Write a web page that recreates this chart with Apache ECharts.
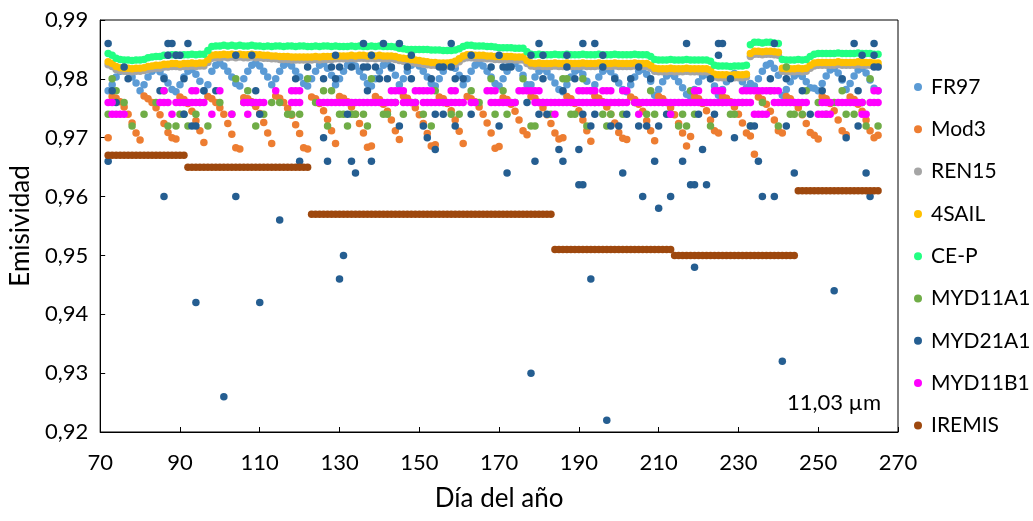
<!DOCTYPE html>
<html>
<head>
<meta charset="utf-8">
<script src="https://cdn.jsdelivr.net/npm/echarts/dist/echarts.min.js"></script>
<style>
  html, body { margin: 0; padding: 0; background: #fff; }
  #chart { width: 1033px; height: 521px; }
</style>
</head>
<body>
<div id="chart"></div>
<script>
// Daily series start on day 72 and run to day 265 (one value per day).
const firstDay = 72;

const xTicks = [70, 90, 110, 130, 150, 170, 190, 210, 230, 250, 270];
const yTicks = [0.92, 0.93, 0.94, 0.95, 0.96, 0.97, 0.98, 0.99];

const seriesNames = ['FR97', 'Mod3', 'REN15', '4SAIL', 'CE-P', 'MYD11A1', 'MYD21A1', 'MYD11B1', 'IREMIS'];
const seriesColors = ['#5B9BD5', '#ED7D31', '#A5A5A5', '#FFC000', '#22FF82', '#70AD47', '#255E91', '#FF00FF', '#9E480E'];

// FR97, daily
const fr97 = [
  0.9780,0.9790,0.9803,0.9813,0.9817,0.9812,0.9803,0.9793,0.9780,0.9790,
  0.9803,0.9813,0.9817,0.9812,0.9803,0.9793,0.9782,0.9778,0.9790,0.9803,
  0.9813,0.9816,0.9808,0.9796,0.9780,0.9790,0.9813,0.9823,0.9827,0.9822,
  0.9813,0.9803,0.9792,0.9788,0.9800,0.9813,0.9823,0.9827,0.9822,0.9813,
  0.9803,0.9790,0.9800,0.9813,0.9823,0.9827,0.9822,0.9813,0.9803,0.9792,
  0.9788,0.9800,0.9813,0.9823,0.9826,0.9818,0.9806,0.9790,0.9800,0.9813,
  0.9823,0.9827,0.9822,0.9813,0.9803,0.9792,0.9788,0.9800,0.9813,0.9823,
  0.9826,0.9818,0.9806,0.9790,0.9800,0.9813,0.9823,0.9827,0.9822,0.9813,
  0.9803,0.9792,0.9788,0.9800,0.9813,0.9823,0.9826,0.9818,0.9806,0.9790,
  0.9800,0.9813,0.9823,0.9827,0.9822,0.9813,0.9803,0.9792,0.9788,0.9800,
  0.9813,0.9823,0.9826,0.9818,0.9806,0.9790,0.9790,0.9803,0.9813,0.9817,
  0.9812,0.9803,0.9793,0.9782,0.9778,0.9790,0.9803,0.9813,0.9816,0.9808,
  0.9796,0.9780,0.9790,0.9803,0.9813,0.9817,0.9812,0.9803,0.9793,0.9782,
  0.9778,0.9790,0.9803,0.9813,0.9816,0.9808,0.9796,0.9772,0.9782,0.9795,
  0.9805,0.9809,0.9804,0.9795,0.9785,0.9774,0.9770,0.9782,0.9795,0.9805,
  0.9808,0.9800,0.9788,0.9772,0.9782,0.9795,0.9805,0.9809,0.9804,0.9795,
  0.9785,0.9792,0.9788,0.9800,0.9813,0.9823,0.9826,0.9818,0.9806,0.9772,
  0.9782,0.9795,0.9805,0.9809,0.9804,0.9795,0.9785,0.9784,0.9780,0.9792,
  0.9805,0.9815,0.9818,0.9810,0.9798,0.9782,0.9792,0.9805,0.9815,0.9818,
  0.9810,0.9798,0.9784,0.9780
];

// Mod3, daily
const mod3 = [
  0.9700,0.9770,0.9767,0.9761,0.9752,0.9740,0.9725,0.9708,0.9696,0.9771,
  0.9766,0.9760,0.9751,0.9739,0.9724,0.9709,0.9700,0.9698,0.9769,0.9765,
  0.9758,0.9745,0.9729,0.9712,0.9692,0.9770,0.9766,0.9760,0.9751,0.9740,
  0.9724,0.9706,0.9683,0.9681,0.9768,0.9766,0.9761,0.9753,0.9741,0.9726,
  0.9708,0.9690,0.9771,0.9767,0.9760,0.9750,0.9738,0.9722,0.9707,0.9683,
  0.9681,0.9769,0.9766,0.9758,0.9746,0.9731,0.9712,0.9690,0.9770,0.9767,
  0.9761,0.9752,0.9740,0.9724,0.9708,0.9684,0.9686,0.9770,0.9765,0.9757,
  0.9745,0.9730,0.9712,0.9697,0.9771,0.9767,0.9760,0.9751,0.9739,0.9724,
  0.9707,0.9686,0.9688,0.9769,0.9766,0.9758,0.9746,0.9730,0.9711,0.9690,
  0.9770,0.9766,0.9761,0.9752,0.9740,0.9725,0.9708,0.9682,0.9685,0.9768,
  0.9765,0.9757,0.9745,0.9730,0.9712,0.9705,0.9770,0.9767,0.9760,0.9751,
  0.9739,0.9724,0.9708,0.9698,0.9700,0.9770,0.9766,0.9758,0.9746,0.9730,
  0.9712,0.9694,0.9771,0.9767,0.9761,0.9752,0.9740,0.9725,0.9709,0.9699,
  0.9697,0.9769,0.9765,0.9757,0.9745,0.9729,0.9712,0.9695,0.9770,0.9766,
  0.9760,0.9751,0.9739,0.9724,0.9708,0.9686,0.9702,0.9770,0.9766,0.9758,
  0.9746,0.9730,0.9712,0.9708,0.9770,0.9767,0.9761,0.9752,0.9740,0.9725,
  0.9708,0.9703,0.9672,0.9769,0.9765,0.9757,0.9745,0.9730,0.9712,0.9708,
  0.9770,0.9766,0.9760,0.9751,0.9739,0.9724,0.9709,0.9704,0.9698,0.9770,
  0.9766,0.9758,0.9746,0.9730,0.9712,0.9705,0.9769,0.9765,0.9757,0.9745,
  0.9730,0.9712,0.9700,0.9704
];

// REN15, daily
const ren15 = [
  0.9824,0.9821,0.9816,0.9814,0.9813,0.9813,0.9812,0.9813,0.9813,0.9814,
  0.9816,0.9817,0.9818,0.9818,0.9820,0.9820,0.9821,0.9821,0.9820,0.9821,
  0.9821,0.9822,0.9821,0.9822,0.9822,0.9828,0.9835,0.9836,0.9836,0.9837,
  0.9836,0.9837,0.9836,0.9837,0.9836,0.9836,0.9837,0.9836,0.9836,0.9835,
  0.9835,0.9834,0.9834,0.9833,0.9833,0.9833,0.9832,0.9832,0.9832,0.9832,
  0.9832,0.9832,0.9833,0.9832,0.9833,0.9833,0.9833,0.9834,0.9834,0.9834,
  0.9834,0.9835,0.9834,0.9835,0.9835,0.9834,0.9835,0.9834,0.9835,0.9834,
  0.9834,0.9834,0.9833,0.9831,0.9830,0.9829,0.9828,0.9827,0.9826,0.9825,
  0.9824,0.9823,0.9823,0.9822,0.9822,0.9822,0.9823,0.9825,0.9829,0.9834,
  0.9836,0.9836,0.9835,0.9835,0.9835,0.9834,0.9834,0.9833,0.9833,0.9833,
  0.9833,0.9833,0.9832,0.9832,0.9832,0.9826,0.9822,0.9821,0.9822,0.9821,
  0.9821,0.9821,0.9822,0.9821,0.9821,0.9822,0.9821,0.9821,0.9821,0.9822,
  0.9821,0.9821,0.9821,0.9822,0.9821,0.9821,0.9821,0.9822,0.9821,0.9821,
  0.9821,0.9821,0.9822,0.9821,0.9821,0.9821,0.9818,0.9813,0.9812,0.9812,
  0.9812,0.9813,0.9812,0.9812,0.9812,0.9813,0.9812,0.9812,0.9812,0.9812,
  0.9812,0.9810,0.9803,0.9802,0.9802,0.9802,0.9801,0.9802,0.9802,0.9802,
  0.9803,0.9838,0.9842,0.9842,0.9841,0.9842,0.9842,0.9841,0.9840,0.9813,
  0.9812,0.9812,0.9812,0.9813,0.9812,0.9813,0.9818,0.9822,0.9823,0.9823,
  0.9823,0.9823,0.9823,0.9824,0.9823,0.9823,0.9823,0.9823,0.9824,0.9823,
  0.9823,0.9823,0.9822,0.9822
];

// 4SAIL, daily
const sail4 = [
  0.9829,0.9826,0.9821,0.9819,0.9818,0.9818,0.9817,0.9818,0.9818,0.9819,
  0.9821,0.9822,0.9823,0.9823,0.9825,0.9825,0.9826,0.9826,0.9825,0.9826,
  0.9826,0.9827,0.9826,0.9827,0.9827,0.9833,0.9840,0.9841,0.9841,0.9842,
  0.9841,0.9842,0.9841,0.9842,0.9841,0.9841,0.9842,0.9841,0.9841,0.9840,
  0.9840,0.9839,0.9839,0.9838,0.9838,0.9838,0.9837,0.9837,0.9837,0.9837,
  0.9837,0.9837,0.9838,0.9837,0.9838,0.9838,0.9838,0.9839,0.9839,0.9839,
  0.9839,0.9840,0.9839,0.9840,0.9840,0.9839,0.9840,0.9839,0.9840,0.9839,
  0.9839,0.9839,0.9838,0.9836,0.9835,0.9834,0.9833,0.9832,0.9831,0.9830,
  0.9829,0.9828,0.9828,0.9827,0.9827,0.9827,0.9828,0.9830,0.9834,0.9839,
  0.9841,0.9841,0.9840,0.9840,0.9840,0.9839,0.9839,0.9838,0.9838,0.9838,
  0.9838,0.9838,0.9837,0.9837,0.9837,0.9831,0.9827,0.9826,0.9827,0.9826,
  0.9826,0.9826,0.9827,0.9826,0.9826,0.9827,0.9826,0.9826,0.9826,0.9827,
  0.9826,0.9826,0.9826,0.9827,0.9826,0.9826,0.9826,0.9827,0.9826,0.9826,
  0.9826,0.9826,0.9827,0.9826,0.9826,0.9826,0.9823,0.9818,0.9817,0.9817,
  0.9817,0.9818,0.9817,0.9817,0.9817,0.9818,0.9817,0.9817,0.9817,0.9817,
  0.9817,0.9815,0.9808,0.9807,0.9807,0.9807,0.9806,0.9807,0.9807,0.9807,
  0.9808,0.9843,0.9847,0.9847,0.9846,0.9847,0.9847,0.9846,0.9845,0.9818,
  0.9817,0.9817,0.9817,0.9818,0.9817,0.9818,0.9823,0.9827,0.9828,0.9828,
  0.9828,0.9828,0.9828,0.9829,0.9828,0.9828,0.9828,0.9828,0.9829,0.9828,
  0.9828,0.9828,0.9827,0.9827
];

// CE-P, daily
const ceP = [
  0.9843,0.9840,0.9835,0.9833,0.9832,0.9832,0.9831,0.9832,0.9832,0.9833,
  0.9836,0.9837,0.9838,0.9838,0.9840,0.9840,0.9841,0.9841,0.9840,0.9841,
  0.9841,0.9842,0.9841,0.9842,0.9842,0.9848,0.9855,0.9856,0.9856,0.9857,
  0.9856,0.9857,0.9856,0.9857,0.9856,0.9856,0.9857,0.9856,0.9856,0.9855,
  0.9856,0.9855,0.9856,0.9856,0.9855,0.9856,0.9856,0.9855,0.9856,0.9856,
  0.9855,0.9855,0.9856,0.9855,0.9856,0.9856,0.9855,0.9856,0.9855,0.9855,
  0.9855,0.9856,0.9855,0.9856,0.9855,0.9855,0.9856,0.9855,0.9856,0.9855,
  0.9855,0.9855,0.9854,0.9852,0.9851,0.9850,0.9850,0.9850,0.9850,0.9850,
  0.9850,0.9849,0.9849,0.9849,0.9848,0.9848,0.9848,0.9849,0.9851,0.9855,
  0.9857,0.9857,0.9856,0.9856,0.9856,0.9855,0.9855,0.9854,0.9853,0.9853,
  0.9853,0.9853,0.9852,0.9852,0.9852,0.9846,0.9842,0.9841,0.9842,0.9841,
  0.9841,0.9841,0.9842,0.9841,0.9841,0.9842,0.9841,0.9841,0.9841,0.9842,
  0.9841,0.9841,0.9841,0.9842,0.9841,0.9841,0.9841,0.9842,0.9841,0.9841,
  0.9841,0.9841,0.9842,0.9841,0.9841,0.9841,0.9838,0.9833,0.9832,0.9832,
  0.9832,0.9833,0.9832,0.9832,0.9832,0.9833,0.9832,0.9832,0.9832,0.9832,
  0.9832,0.9830,0.9823,0.9822,0.9822,0.9822,0.9821,0.9822,0.9822,0.9822,
  0.9823,0.9858,0.9862,0.9862,0.9861,0.9862,0.9862,0.9861,0.9860,0.9833,
  0.9832,0.9832,0.9832,0.9833,0.9832,0.9833,0.9838,0.9842,0.9843,0.9843,
  0.9843,0.9843,0.9843,0.9844,0.9843,0.9843,0.9843,0.9843,0.9844,0.9843,
  0.9843,0.9843,0.9842,0.9842
];

// IREMIS, daily
const iremis = [
  0.967,0.967,0.967,0.967,0.967,0.967,0.967,0.967,0.967,0.967,
  0.967,0.967,0.967,0.967,0.967,0.967,0.967,0.967,0.967,0.967,
  0.965,0.965,0.965,0.965,0.965,0.965,0.965,0.965,0.965,0.965,
  0.965,0.965,0.965,0.965,0.965,0.965,0.965,0.965,0.965,0.965,
  0.965,0.965,0.965,0.965,0.965,0.965,0.965,0.965,0.965,0.965,
  0.965,0.957,0.957,0.957,0.957,0.957,0.957,0.957,0.957,0.957,
  0.957,0.957,0.957,0.957,0.957,0.957,0.957,0.957,0.957,0.957,
  0.957,0.957,0.957,0.957,0.957,0.957,0.957,0.957,0.957,0.957,
  0.957,0.957,0.957,0.957,0.957,0.957,0.957,0.957,0.957,0.957,
  0.957,0.957,0.957,0.957,0.957,0.957,0.957,0.957,0.957,0.957,
  0.957,0.957,0.957,0.957,0.957,0.957,0.957,0.957,0.957,0.957,
  0.957,0.957,0.951,0.951,0.951,0.951,0.951,0.951,0.951,0.951,
  0.951,0.951,0.951,0.951,0.951,0.951,0.951,0.951,0.951,0.951,
  0.951,0.951,0.951,0.951,0.951,0.951,0.951,0.951,0.951,0.951,
  0.951,0.951,0.950,0.950,0.950,0.950,0.950,0.950,0.950,0.950,
  0.950,0.950,0.950,0.950,0.950,0.950,0.950,0.950,0.950,0.950,
  0.950,0.950,0.950,0.950,0.950,0.950,0.950,0.950,0.950,0.950,
  0.950,0.950,0.950,0.961,0.961,0.961,0.961,0.961,0.961,0.961,
  0.961,0.961,0.961,0.961,0.961,0.961,0.961,0.961,0.961,0.961,
  0.961,0.961,0.961,0.961
];

// MYD11A1 valid retrievals: [day, emissivity]
const myd11a1 = [
  [72,0.974],[73,0.980],[74,0.978],[76,0.976],[78,0.972],[81,0.974],[84,0.976],[86,0.978],[87,0.972],[89,0.972],
  [90,0.974],[91,0.974],[92,0.972],[94,0.974],[95,0.976],[97,0.972],[100,0.976],[103,0.974],[104,0.980],[106,0.976],
  [107,0.978],[109,0.972],[111,0.974],[113,0.976],[115,0.976],[117,0.974],[118,0.974],[120,0.974],[122,0.980],[124,0.976],
  [126,0.978],[127,0.972],[128,0.978],[130,0.974],[131,0.974],[132,0.972],[133,0.974],[134,0.974],[136,0.974],[137,0.972],
  [138,0.980],[141,0.974],[142,0.974],[144,0.976],[146,0.974],[149,0.976],[151,0.974],[153,0.972],[154,0.978],[156,0.976],
  [158,0.974],[160,0.974],[163,0.978],[165,0.976],[168,0.980],[169,0.974],[171,0.978],[172,0.974],[174,0.976],[176,0.980],
  [178,0.972],[179,0.972],[181,0.976],[183,0.974],[186,0.980],[187,0.980],[188,0.974],[189,0.974],[191,0.980],[192,0.972],
  [194,0.976],[196,0.974],[197,0.972],[198,0.974],[200,0.976],[201,0.974],[204,0.976],[207,0.974],[208,0.978],[209,0.974],
  [211,0.976],[213,0.974],[215,0.972],[216,0.974],[217,0.972],[218,0.978],[219,0.974],[221,0.976],[223,0.972],[226,0.976],
  [228,0.974],[229,0.974],[231,0.976],[233,0.972],[236,0.976],[238,0.978],[240,0.972],[242,0.982],[243,0.974],[244,0.974],
  [246,0.974],[247,0.978],[250,0.976],[252,0.974],[254,0.976],[256,0.978],[257,0.974],[259,0.974],[261,0.976],[262,0.972],
  [263,0.980],[265,0.972]
];

// MYD21A1 valid retrievals: [day, emissivity]
const myd21a1 = [
  [72,0.966],[72,0.986],[73,0.978],[74,0.976],[76,0.982],[77,0.980],[85,0.978],[86,0.960],[86,0.980],[87,0.986],
  [87,0.984],[88,0.986],[89,0.984],[90,0.984],[91,0.980],[91,0.974],[92,0.986],[93,0.972],[94,0.942],[94,0.972],
  [96,0.978],[99,0.978],[101,0.926],[104,0.960],[104,0.984],[108,0.984],[108,0.976],[109,0.978],[110,0.942],[110,0.974],
  [115,0.956],[119,0.980],[120,0.966],[122,0.982],[126,0.980],[126,0.970],[127,0.966],[128,0.982],[129,0.984],[129,0.980],
  [130,0.946],[130,0.982],[131,0.950],[132,0.974],[133,0.982],[133,0.966],[134,0.964],[136,0.986],[136,0.982],[137,0.978],
  [137,0.982],[138,0.984],[138,0.966],[139,0.982],[140,0.980],[141,0.986],[142,0.980],[143,0.982],[145,0.986],[145,0.972],
  [147,0.982],[148,0.984],[148,0.980],[151,0.972],[152,0.970],[153,0.980],[154,0.968],[154,0.974],[155,0.982],[156,0.982],
  [156,0.974],[158,0.986],[158,0.982],[159,0.980],[159,0.972],[161,0.980],[163,0.974],[163,0.984],[168,0.982],[170,0.972],
  [170,0.984],[171,0.982],[172,0.982],[172,0.964],[173,0.982],[177,0.976],[178,0.930],[178,0.984],[179,0.966],[180,0.986],
  [180,0.974],[181,0.980],[181,0.984],[182,0.974],[185,0.968],[186,0.966],[186,0.978],[187,0.984],[187,0.982],[189,0.980],
  [190,0.968],[190,0.962],[191,0.962],[191,0.986],[191,0.974],[193,0.946],[193,0.972],[194,0.986],[194,0.974],[196,0.984],
  [196,0.982],[197,0.922],[198,0.972],[199,0.980],[200,0.972],[201,0.964],[202,0.974],[203,0.980],[205,0.972],[205,0.982],
  [206,0.960],[207,0.972],[208,0.980],[209,0.966],[210,0.958],[210,0.972],[212,0.974],[213,0.960],[216,0.966],[217,0.986],
  [218,0.962],[219,0.962],[219,0.948],[220,0.974],[221,0.968],[222,0.962],[223,0.980],[224,0.974],[225,0.986],[225,0.984],
  [226,0.986],[228,0.980],[229,0.970],[233,0.972],[234,0.972],[235,0.966],[236,0.960],[238,0.980],[239,0.986],[239,0.960],
  [241,0.932],[242,0.980],[242,0.972],[244,0.964],[246,0.978],[248,0.974],[251,0.978],[254,0.944],[256,0.980],[257,0.970],
  [259,0.986],[260,0.972],[260,0.978],[261,0.984],[262,0.964],[263,0.960],[264,0.986],[264,0.984],[264,0.982],[265,0.982]
];

// MYD11B1 retrievals: days on which each emissivity level was reported
const myd11b1Levels = [0.978, 0.976, 0.974];
const myd11b1Days = [
  [86,93,94,100,114,118,119,120,143,144,145,146,149,150,151,152,153,158,159,167,168,169,
   175,176,177,178,179,180,190,191,192,193,194,196,197,198,201,202,219,220,224,225,226,
   231,232,233,234,235,236,237,238,239,240,264,265],
  [72,73,85,86,87,89,90,91,92,93,94,95,96,106,107,108,109,110,111,118,119,120,
   125,126,127,128,129,130,131,132,133,134,135,136,137,138,139,140,141,142,143,144,
   146,147,148,149,151,152,153,154,155,156,157,158,159,160,161,163,164,
   168,169,170,171,172,173,174,179,180,181,182,183,184,185,186,187,188,189,190,191,
   192,193,194,195,196,197,198,199,200,201,202,204,205,206,207,208,209,210,211,212,
   213,214,215,216,217,218,219,220,221,222,223,224,225,226,227,228,229,230,231,232,233,
   239,240,241,242,243,244,245,246,247,251,252,253,255,256,257,258,259,260,261,263,264,265],
  [73,74,75,76,88,98,103,107,184,205,213,234,235,236,237,250,251,252,253,261,262]
];

const FONT = 'Lato, "Liberation Sans", sans-serif';

function dailyPoints(values) {
  return values.map((v, i) => [firstDay + i, v]);
}

const myd11b1 = [];
myd11b1Levels.forEach((lvl, k) => {
  myd11b1Days[k].forEach(d => myd11b1.push([d, lvl]));
});
myd11b1.sort((a, b) => a[0] - b[0]);

const seriesData = [
  dailyPoints(fr97),
  dailyPoints(mod3),
  dailyPoints(ren15),
  dailyPoints(sail4),
  dailyPoints(ceP),
  myd11a1,
  myd21a1,
  myd11b1,
  dailyPoints(iremis)
];

const chart = echarts.init(document.getElementById('chart'), null, { renderer: 'canvas' });

chart.setOption({
  animation: false,
  backgroundColor: '#ffffff',
  textStyle: { fontFamily: FONT },
  grid: {
    left: 98, right: 135, top: 20, bottom: 89,
    show: true, borderColor: '#000', borderWidth: 1, backgroundColor: 'transparent'
  },
  legend: {
    orient: 'vertical',
    left: 914,
    top: 76,
    padding: 0,
    itemWidth: 8,
    itemHeight: 8,
    itemGap: 20.3,
    icon: 'circle',
    data: seriesNames,
    textStyle: { fontFamily: FONT, fontSize: 21, color: '#000', lineHeight: 22, padding: [0, 0, 0, 4] }
  },
  xAxis: {
    type: 'value',
    min: xTicks[0],
    max: xTicks[xTicks.length - 1],
    interval: xTicks[1] - xTicks[0],
    name: 'Día del año',
    nameLocation: 'middle',
    nameGap: 54,
    nameTextStyle: { fontFamily: FONT, fontSize: 26, color: '#000' },
    axisLine: { show: true, onZero: false, lineStyle: { color: '#000', width: 1 } },
    axisTick: { show: true, inside: true, length: 5, lineStyle: { color: '#000' } },
    axisLabel: { fontFamily: FONT, fontSize: 22, color: '#000', margin: 20 },
    splitLine: { show: false }
  },
  yAxis: {
    type: 'value',
    min: yTicks[0],
    max: yTicks[yTicks.length - 1],
    interval: 0.01,
    name: 'Emisividad',
    nameLocation: 'middle',
    nameGap: 66,
    nameRotate: 90,
    nameTextStyle: { fontFamily: FONT, fontSize: 26, color: '#000' },
    axisLine: { show: true, lineStyle: { color: '#000', width: 1 } },
    axisTick: { show: true, inside: true, length: 5, lineStyle: { color: '#000' } },
    axisLabel: {
      fontFamily: FONT, fontSize: 22, color: '#000', margin: 12,
      formatter: v => v.toFixed(2).replace('.', ',')
    },
    splitLine: { show: false }
  },
  graphic: [{
    type: 'text',
    right: 152,
    top: 392,
    style: { text: '11,03 µm', fontFamily: FONT, fontSize: 22, fill: '#000' }
  }],
  series: seriesNames.map((name, i) => ({
    name,
    type: 'scatter',
    symbol: 'circle',
    symbolSize: 7.5,
    itemStyle: { color: seriesColors[i], opacity: 1 },
    emphasis: { disabled: true },
    data: seriesData[i]
  }))
});
</script>
</body>
</html>
